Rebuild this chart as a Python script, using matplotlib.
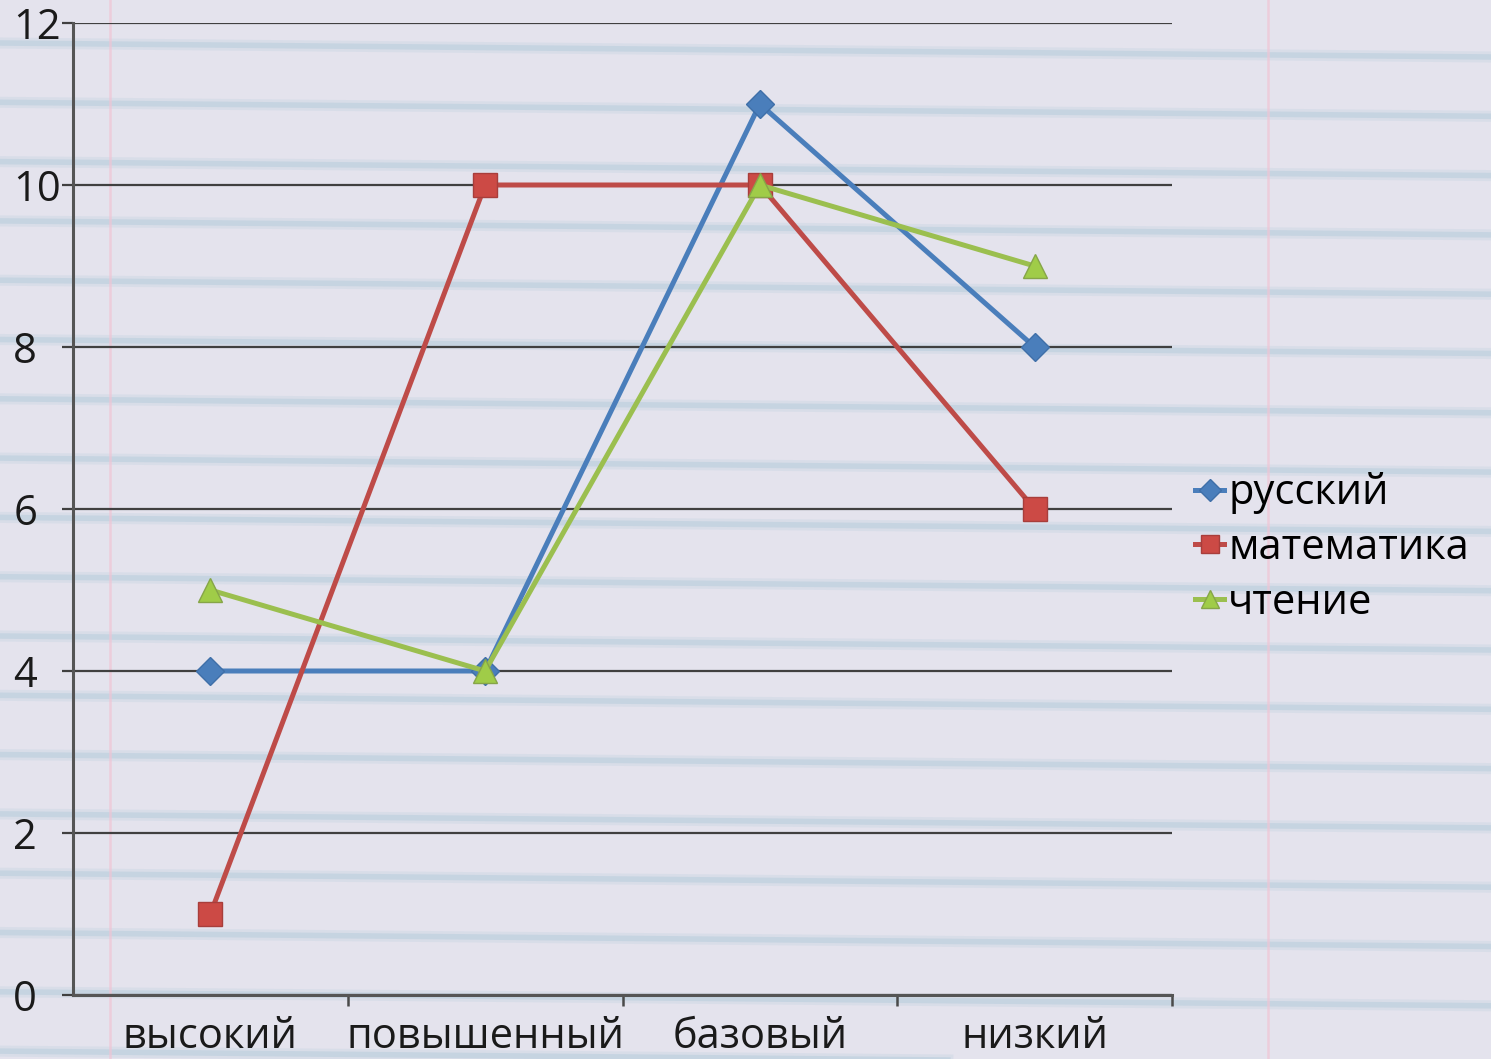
"""
Line chart: levels of results by subject (photo of a slide on lined paper)
"""

import matplotlib
matplotlib.use("Agg")
import matplotlib.pyplot as plt
from matplotlib.lines import Line2D

categories = ["высокий", "повышенный", "базовый", "низкий"]
russian = [4, 4, 11, 8]
math = [1, 10, 10, 6]
reading = [5, 4, 10, 9]
series_names = ["русский", "математика", "чтение"]
y_ticks = [0, 2, 4, 6, 8, 10, 12]

plt.rcParams["font.family"] = ["Open Sans", "DejaVu Sans"]

W, H = 1491, 1059


def draw_paper(fig):
    # light blue ruling of the notebook page
    for k in range(-1, 19):
        y0 = 43 + 59.3 * k
        y1 = y0 + 14
        for lw, a in [(8, 0.18), (4, 0.35)]:
            fig.add_artist(Line2D([0, 1], [1 - y0 / H, 1 - y1 / H],
                                  transform=fig.transFigure, color="#a6c4d6",
                                  lw=lw, alpha=a, zorder=0))
    # pink margin lines
    for x in [110, 1268]:
        fig.add_artist(Line2D([x / W, x / W], [0, 1], transform=fig.transFigure,
                              color="#f0c4d4", lw=1.8, alpha=0.7, zorder=0))


def main():
    fig = plt.figure(figsize=(14.91, 10.59), dpi=100)
    fig.patch.set_facecolor("#e4e3ed")
    draw_paper(fig)

    ax = fig.add_axes([73 / W, 64 / H, 1099 / W, 972 / H])
    ax.set_facecolor("none")

    x = list(range(len(categories)))
    ax.plot(x, russian, color="#4a7ebb", lw=3.6, marker="D", ms=14,
            mec="#3f6fa8", mfc="#4a7ebb", label=series_names[0], zorder=3)
    ax.plot(x, math, color="#be4b48", lw=3.6, marker="s", ms=17,
            mec="#a83e3b", mfc="#cc4a45", label=series_names[1], zorder=4)
    ax.plot(x, reading, color="#9bbf4f", lw=3.6, marker="^", ms=17,
            mec="#86a548", mfc="#a0cc48", label=series_names[2], zorder=5)

    ax.set_xlim(-0.5, len(categories) - 0.5)
    ax.set_ylim(0, 12)

    # horizontal gridlines
    ax.set_yticks(y_ticks)
    ax.yaxis.grid(True, color="#404040", lw=1.6)
    ax.set_axisbelow(True)
    ax.tick_params(axis="y", length=8, width=1.6, color="#404040",
                   pad=35, labelsize=30, labelcolor="#1a1a1a")
    for lbl in ax.get_yticklabels():
        lbl.set_horizontalalignment("left")

    # category labels with tick marks between categories
    ax.set_xticks(x)
    ax.set_xticklabels(categories)
    ax.set_xticks([i + 0.5 for i in x], minor=True)
    ax.tick_params(axis="x", which="major", length=0, pad=15,
                   labelsize=30, labelcolor="#1a1a1a")
    ax.tick_params(axis="x", which="minor", length=8, width=1.8,
                   color="#4a4a4a", direction="out")

    for side in ["top", "right"]:
        ax.spines[side].set_visible(False)
    for side in ["left", "bottom"]:
        ax.spines[side].set_color("#555555")
        ax.spines[side].set_linewidth(2.2)

    ax.legend(loc="center left", bbox_to_anchor=(1195 / W, 1 - 548 / H),
              bbox_transform=fig.transFigure, frameon=False, fontsize=30,
              handlelength=0.7, handletextpad=0.1, labelspacing=0.3,
              borderpad=0, borderaxespad=0, markerscale=0.8)

    fig.savefig("out.png", dpi=100, facecolor=fig.get_facecolor())
    plt.close(fig)


if __name__ == "__main__":
    main()
